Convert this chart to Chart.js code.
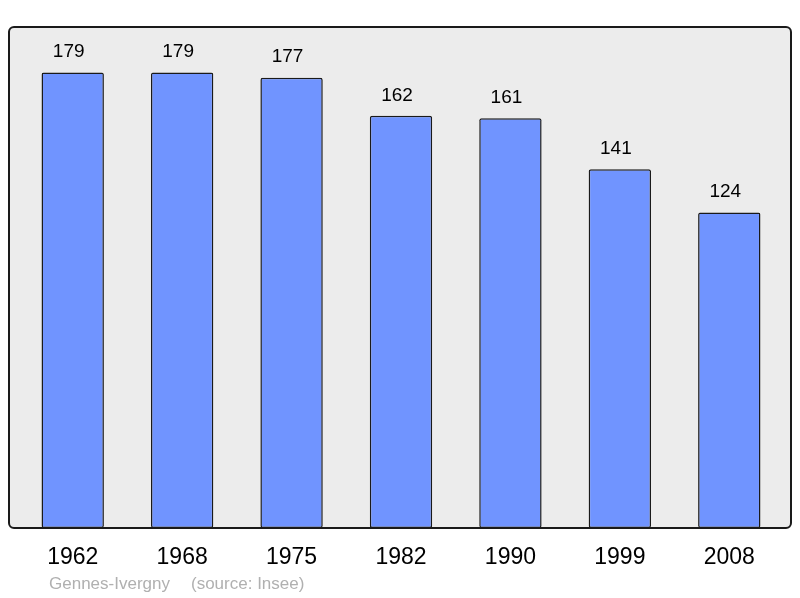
<!DOCTYPE html>
<html>
<head>
<meta charset="utf-8">
<script src="https://cdn.jsdelivr.net/npm/chart.js@4/dist/chart.umd.min.js"></script>
<style>
  html, body { margin: 0; padding: 0; background: #fff; }
  #wrap { width: 800px; height: 598px; }
</style>
</head>
<body>
<div id="wrap"><canvas id="chart" width="800" height="598"></canvas></div>
<script>
const years = ["1962", "1968", "1975", "1982", "1990", "1999", "2008"];
const population = [179, 179, 177, 162, 161, 141, 124];
const footerPlace = "Gennes-Ivergny";
const footerSource = "(source: Insee)";

// frame + grey background behind the bars
const framePlugin = {
  id: "frame",
  beforeDatasetsDraw(chart) {
    const { ctx, chartArea: a } = chart;
    const x = a.left - 9, y = a.top, w = a.right - a.left + 16, h = a.bottom - a.top;
    ctx.save();
    ctx.beginPath();
    ctx.roundRect(x, y, w, h, 5);
    ctx.fillStyle = "#ececec";
    ctx.fill();
    ctx.restore();
  },
  afterDatasetsDraw(chart) {
    const { ctx, chartArea: a } = chart;
    const x = a.left - 9, y = a.top, w = a.right - a.left + 16, h = a.bottom - a.top;
    ctx.save();
    ctx.beginPath();
    ctx.roundRect(x, y, w, h, 5);
    ctx.lineWidth = 2;
    ctx.strokeStyle = "#1a1a1a";
    ctx.stroke();

    // values above bars
    ctx.font = "19px 'Liberation Sans', Arial, sans-serif";
    ctx.fillStyle = "#000";
    ctx.textAlign = "center";
    ctx.textBaseline = "bottom";
    chart.getDatasetMeta(0).data.forEach((bar, i) => {
      ctx.fillText(String(population[i]), bar.x - 4, bar.y - 11);
    });

    // footer
    ctx.font = "17px 'Liberation Sans', Arial, sans-serif";
    ctx.fillStyle = "#b0b0b0";
    ctx.textAlign = "left";
    ctx.textBaseline = "middle";
    ctx.fillText(footerPlace, 49, 584);
    ctx.fillText(footerSource, 191, 584);
    ctx.restore();
  }
};

new Chart(document.getElementById("chart"), {
  type: "bar",
  data: {
    labels: years,
    datasets: [{
      data: population,
      backgroundColor: "#7094ff",
      borderColor: "#1a1a1a",
      borderWidth: 1.5,
      borderRadius: 2,
      borderSkipped: false,
      categoryPercentage: 1,
      barPercentage: 0.57
    }]
  },
  options: {
    responsive: false,
    animation: false,
    layout: { padding: { left: 18, right: 16, top: 27, bottom: 0 } },
    plugins: {
      legend: { display: false },
      tooltip: { enabled: false }
    },
    scales: {
      x: {
        grid: { display: false, drawTicks: false },
        border: { display: false },
        ticks: {
          color: "#000",
          padding: 16,
          font: { size: 23, family: "'Liberation Sans', Arial, sans-serif" }
        },
        afterFit(scale) { scale.height = 70; }
      },
      y: {
        display: false,
        min: 0,
        max: 196.9
      }
    }
  },
  plugins: [framePlugin]
});
</script>
</body>
</html>
